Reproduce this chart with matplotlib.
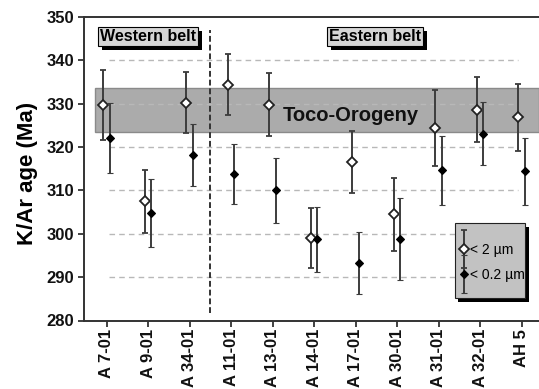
import matplotlib
matplotlib.use("Agg")
import matplotlib.pyplot as plt
import matplotlib.patheffects as pe
from matplotlib.patches import Rectangle
from matplotlib.container import ErrorbarContainer
from matplotlib.legend_handler import HandlerErrorbar
import numpy as np

plt.rcParams['font.family'] = ['Liberation Sans', 'DejaVu Sans']

samples = ['A 7-01', 'A 9-01', 'A 34-01', 'A 11-01', 'A 13-01', 'A 14-01',
           'A 17-01', 'A 30-01', 'A 31-01', 'A 32-01', 'AH 5']
age_2um = [329.7, 307.5, 330.2, 334.4, 329.8, 299.0, 316.5, 304.5, 324.4, 328.6, 326.9]
err_2um = [8.1, 7.3, 7.0, 7.1, 7.2, 7.0, 7.2, 8.4, 8.7, 7.5, 7.7]
age_02um = [322.1, 304.8, 318.2, 313.8, 310.0, 298.7, 293.3, 298.8, 314.6, 323.1, 314.4]
err_02um = [8.0, 7.9, 7.1, 6.9, 7.4, 7.4, 7.1, 9.5, 7.9, 7.3, 7.8]
orogeny_range = [323.5, 333.6]
grid_levels = [290, 300, 310, 320, 330, 340]
yticks = [280, 290, 300, 310, 320, 330, 340, 350]

fig = plt.figure(figsize=(5.39, 3.89), dpi=100)
ax = fig.add_axes([84/539, 1-320.5/389, 455/539, 303.5/389])

x = np.arange(len(samples))
ax.set_xlim(-0.554, 10.41)
ax.set_ylim(280, 350)

shadow = [pe.SimplePatchShadow(offset=(2.6, -2.6), shadow_rgbFace='black', alpha=1),
          pe.Normal()]

# orogeny band
ax.axhspan(orogeny_range[0], orogeny_range[1], xmin=0.024, xmax=1.0,
           facecolor='#ababab', edgecolor='#8a8a8a', lw=1, zorder=1)
ax.text(5.88, 327.2, 'Toco-Orogeny', fontsize=14.5, fontweight='bold',
        ha='center', va='center', color='#111111', zorder=4)

# grid lines
ax.hlines(grid_levels, 0.05, 9.9, colors='#b8b8b8', linestyles=(0, (4, 3)),
          lw=1, zorder=1.5)

# separator
ax.axvline(2.48, ymin=0.026, ymax=0.957, color='#333333', lw=1.4,
           linestyle=(0, (3, 1.5)), zorder=2)

ecol = '#3c3c3c'
e1 = ax.errorbar(x - 0.09, age_2um, yerr=err_2um, fmt='D', ms=5.2,
                 mfc='white', mec='#222222', mew=1.3, ecolor=ecol,
                 elinewidth=1.4, capsize=2, capthick=1, zorder=3,
                 label='< 2 µm')
e2 = ax.errorbar(x + 0.07, age_02um, yerr=err_02um, fmt='D', ms=3.8,
                 mfc='black', mec='black', mew=0.8, ecolor=ecol,
                 elinewidth=1.4, capsize=2, capthick=1, zorder=3.1,
                 label='< 0.2 µm')

# belt labels
for xf, txt in [(0.1407, 'Western belt'), (0.6396, 'Eastern belt')]:
    t = ax.text(xf, 0.9357, txt, transform=ax.transAxes, fontsize=11.5,
                fontweight='bold', ha='center', va='center', zorder=5,
                bbox=dict(boxstyle='square,pad=0.12', fc='#d6d6d6',
                          ec='black', lw=0.8))
    t.get_bbox_patch().set_path_effects(shadow)

# legend box
box = Rectangle((0.815, 0.073), 0.154, 0.247, transform=ax.transAxes,
                facecolor='#c2c2c2', edgecolor='#222222', lw=0.8, zorder=6)
box.set_path_effects(shadow)
ax.add_patch(box)

leg = ax.legend(handles=[e1, e2], loc='upper left',
                bbox_to_anchor=(0.8235, 0.256), borderaxespad=0, borderpad=0,
                fontsize=10, frameon=False,
                handlelength=0.8, handletextpad=0.05, labelspacing=0.8,
                handler_map={ErrorbarContainer: HandlerErrorbar(yerr_size=1.35)})
leg.set_zorder(7)

ax.set_xticks(x)
ax.set_xticklabels(samples, rotation=90, fontsize=12, fontweight='bold')
ax.set_yticks(yticks)
ax.set_yticklabels([str(v) for v in yticks], fontsize=12, fontweight='bold')
ax.tick_params(axis='x', direction='out', length=4, width=1.3, pad=2, colors='#333333',
               labelcolor='#111111')
ax.tick_params(axis='y', direction='out', length=4, width=1.3, pad=3, colors='#333333',
               labelcolor='#111111')

ax.set_ylabel('K/Ar age (Ma)', fontsize=16, fontweight='bold', va='center')
ax.yaxis.set_label_coords(-0.125, 0.483)

for s in ['left', 'top', 'bottom']:
    ax.spines[s].set_color('#333333')
    ax.spines[s].set_linewidth(1.4)
ax.spines['right'].set_visible(False)

fig.savefig('out.png', dpi=100)
